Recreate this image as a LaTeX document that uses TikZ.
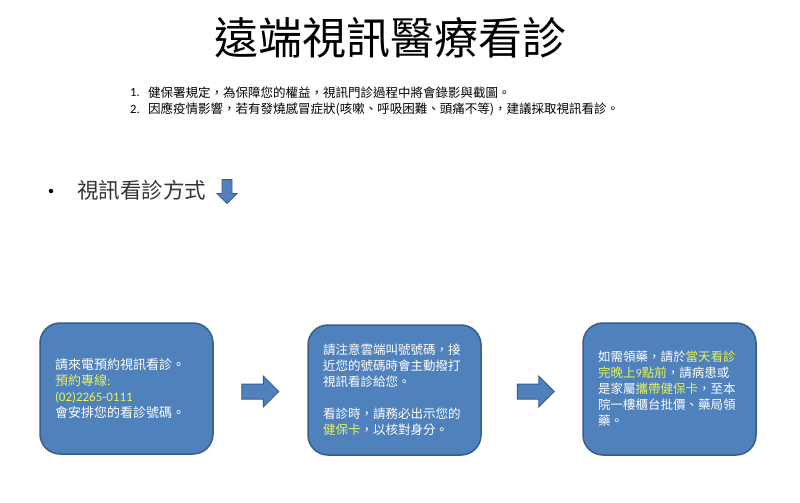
\documentclass[tikz,border=0pt]{standalone}
\usepackage{fontspec}
\setmainfont{Noto Sans CJK TC}
\newfontfamily\lat{Carlito}
\usetikzlibrary{shapes.arrows}
\definecolor{boxfill}{HTML}{4F81BD}
\definecolor{boxline}{HTML}{385D8A}
\definecolor{hl}{HTML}{E6F25A}
\tikzset{
  stepbox/.style={draw=boxline, line width=1.5pt, fill=boxfill, rounded corners=20pt,
    minimum width=173pt, minimum height=131pt, inner xsep=15pt, outer sep=0pt,
    text width=143pt, align=left, text=white, font=\fontsize{12.5}{16}\selectfont},
  blockarrow/.style={single arrow, draw=boxline, line width=1pt, fill=boxfill,
    minimum height=37pt, inner sep=7pt, single arrow head extend=8pt, outer sep=0pt},
  listtxt/.style={anchor=west, inner sep=0pt, font=\fontsize{12.5}{14}\selectfont},
}
\begin{document}
\begin{tikzpicture}[x=1pt,y=-1pt]
\useasboundingbox[fill=white] (0,0) rectangle (800,503);
\node[font=\fontsize{44}{48}\selectfont, inner sep=0pt] (title) at (390,38) {遠端視訊醫療看診};
\node[listtxt] (n1) at (130,93) {\lat 1.};
\node[listtxt] (t1) at (148,93) {健保署規定，為保障您的權益，視訊門診過程中將會錄影與截圖。};
\node[listtxt] (n2) at (130,109) {\lat 2.};
\node[listtxt] (t2) at (148,109) {因應疫情影響，若有發燒感冒症狀(咳嗽、呼吸困難、頭痛不等)，建議採取視訊看診。};
\node[circle, fill=black, inner sep=0pt, minimum size=4.5pt] (bul) at (51,191) {};
\node[anchor=west, inner sep=0pt, text=black!80, font=\fontsize{21.5}{24}\selectfont] (sub) at (77,190) {視訊看診方式};
\node[single arrow, draw=boxline, line width=0.8pt, fill=boxfill, shape border rotate=270,
  minimum height=24pt, inner sep=4.6pt, single arrow head extend=5pt, outer sep=0pt] (down) at (227,189) {};
\node[stepbox, font=\fontsize{13}{16}\selectfont] (b1) at (126.5,388.5) {請來電預約視訊看診。\\
{\color{hl}預約專線{\lat :}}\\
{\color{hl}\lat (02)2265-0111}\\
會安排您的看診號碼。};
\node[stepbox, minimum height=130pt] (b2) at (394.5,390) {請注意雲端叫號號碼，接\\
近您的號碼時會主動撥打\\
視訊看診給您。\\[16pt]
看診時，請務必出示您的\\
{\color{hl}健保卡}，以核對身分。};
\node[stepbox, minimum height=132pt] (b3) at (669.5,389) {如需領藥，請於{\color{hl}當天看診}\\
{\color{hl}完晚上{\lat 9}點前}，請病患或\\
是家屬{\color{hl}攜帶健保卡}，至本\\
院一樓櫃台批價、藥局領\\
藥。};
\node[blockarrow] (a1) at (256.5,391.5) {};
\node[blockarrow] (a2) at (532,391.5) {};
\end{tikzpicture}
\end{document}
